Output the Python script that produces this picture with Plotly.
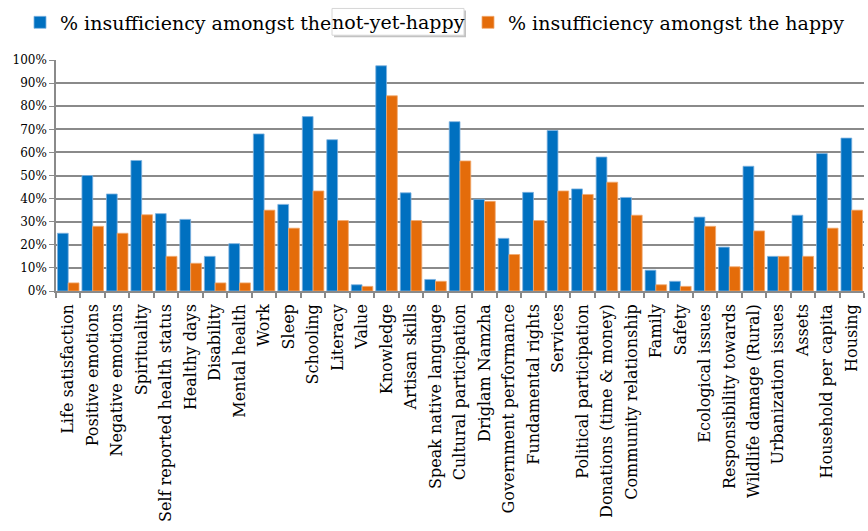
import plotly.graph_objects as go

categories = [
    "Life satisfaction", "Positive emotions", "Negative emotions", "Spirituality",
    "Self reported health status", "Healthy days", "Disability", "Mental health",
    "Work", "Sleep", "Schooling", "Literacy", "Value", "Knowledge", "Artisan skills",
    "Speak native language", "Cultural participation", "Driglam Namzha",
    "Government performance", "Fundamental rights", "Services",
    "Political participation", "Donations (time & money)", "Community relationship",
    "Family", "Safety", "Ecological issues", "Responsibility towards",
    "Wildlife damage (Rural)", "Urbanization issues", "Assets",
    "Household per capita", "Housing",
]

not_yet_happy = [
    25, 50, 42, 56.5, 33.5, 31, 15, 20.5, 68, 37.5, 75.5, 65.5, 2.7, 97.5, 42.5,
    5, 73.3, 39.7, 22.8, 42.7, 69.5, 44.2, 58, 40.5, 9, 4.2, 32, 19, 54, 15, 32.8,
    59.5, 66.2,
]

happy = [
    3.5, 28, 25, 33, 15, 12, 3.5, 3.5, 35, 27.2, 43.3, 30.5, 2, 84.5, 30.5, 4.2,
    56.3, 38.8, 15.8, 30.5, 43.3, 41.8, 47.1, 32.8, 2.7, 2, 28, 10.5, 26, 15, 15,
    27.2, 35,
]

# first legend label continues in the text box "not-yet-happy"
series_names = [
    "% insufficiency amongst the",
    "% insufficiency amongst the happy",
]
box_text = "not-yet-happy"
y_ticks = [i / 10 for i in range(11)]

FONT = "DejaVu Serif"
BLUE = "#0070C0"
ORANGE = "#E46C0A"
GRID = "#8a8a8a"

# plot area in pixels
L, R, T, B = 56, 4, 58, 240
W, H = 868, 531
PW, PH = W - L - R, H - T - B


def px_x(x):
    return (x - L) / PW


def px_y(y):
    return (H - B - y) / PH


fig = go.Figure()
fig.add_bar(
    x=categories, y=[v / 100 for v in not_yet_happy], name=series_names[0],
    marker=dict(color=BLUE, line=dict(color="#7fb3df", width=0.8)),
    legend="legend", showlegend=True,
)
fig.add_bar(
    x=categories, y=[v / 100 for v in happy], name=series_names[1],
    marker=dict(color=ORANGE, line=dict(color="#f1a970", width=0.8)),
    legend="legend2", showlegend=True,
)

# text box with a soft drop shadow, next to the first legend entry
bx0, bx1, by0, by1 = 332, 464, 6, 33
fig.add_shape(
    type="rect", xref="paper", yref="paper",
    x0=px_x(bx0 + 2), x1=px_x(bx1 + 2), y0=px_y(by1 + 2), y1=px_y(by0 + 2),
    fillcolor="rgba(120,120,120,0.45)", line=dict(width=0), layer="above",
)
fig.add_shape(
    type="rect", xref="paper", yref="paper",
    x0=px_x(bx0), x1=px_x(bx1), y0=px_y(by1), y1=px_y(by0),
    fillcolor="white", line=dict(color="#d6d6d6", width=1), layer="above",
)
fig.add_annotation(
    text=box_text, xref="paper", yref="paper",
    x=px_x((bx0 + bx1) / 2), y=px_y((by0 + by1) / 2),
    xanchor="center", yanchor="middle", showarrow=False,
    font=dict(family=FONT, size=19, color="black"),
)

legend_style = dict(
    orientation="h", yanchor="top", xanchor="left",
    font=dict(family=FONT, size=19, color="black"),
    itemwidth=30, bgcolor="rgba(0,0,0,0)", visible=True,
)

fig.update_layout(
    width=W, height=H,
    margin=dict(l=L, r=R, t=T, b=B),
    paper_bgcolor="white", plot_bgcolor="white",
    barmode="group", bargap=0.12, bargroupgap=0.0,
    showlegend=True,
    font=dict(family=FONT, color="black"),
    legend=dict(legend_style, x=px_x(20), y=px_y(1)),
    legend2=dict(legend_style, x=px_x(468), y=px_y(1)),
    xaxis=dict(
        type="category", tickangle=-90, tickson="boundaries",
        ticks="outside", ticklen=5, tickcolor=GRID, tickwidth=1.5,
        ticklabelstandoff=5,
        showline=True, linecolor=GRID, linewidth=1.5,
        showgrid=False, tickfont=dict(family=FONT, size=16, color="black"),
        range=[-0.5, len(categories) - 0.5],
    ),
    yaxis=dict(
        range=[0, 1], tickvals=y_ticks, tickformat=".0%",
        showgrid=True, gridcolor=GRID, gridwidth=1.5,
        showline=True, linecolor=GRID, linewidth=1.5,
        ticks="outside", ticklen=5, tickcolor=GRID,
        zeroline=False, tickfont=dict(family=FONT, size=12, color="black"),
    ),
)

fig.write_html("out.html")
